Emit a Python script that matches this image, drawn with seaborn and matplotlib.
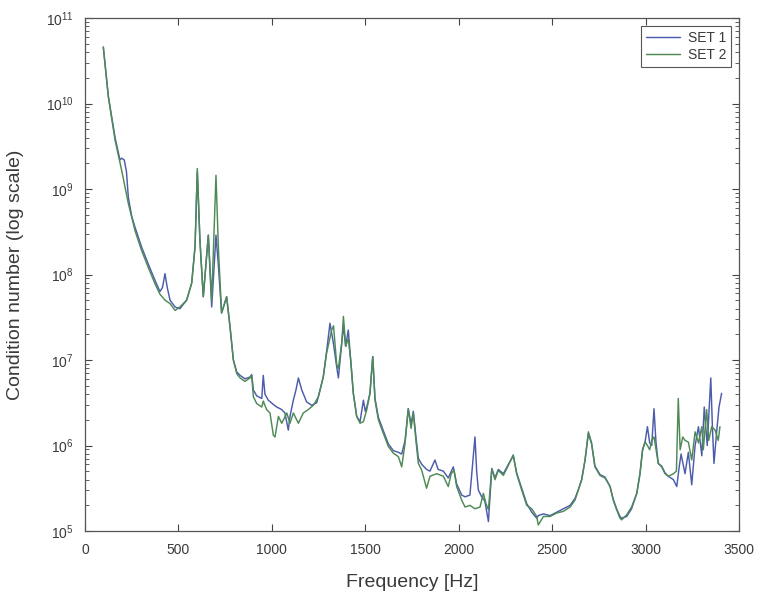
import numpy as np
import pandas as pd
import matplotlib
matplotlib.use("Agg")
import matplotlib.pyplot as plt
import seaborn as sns
from matplotlib.ticker import LogLocator, FixedLocator

# ---- data (frequency in Hz, condition number as log10) ----
set2_freq = [98, 125, 161, 196, 232, 268, 303, 339, 375, 401, 428, 455, 482, 508, 544, 571, 589, 601, 615, 633,
             660, 678, 701, 714, 731, 758, 776, 794, 812, 830, 856, 883, 892, 901, 919, 946, 954, 972, 990, 1008,
             1017, 1035, 1053, 1080, 1097, 1115, 1142, 1168, 1195, 1222, 1249, 1258, 1275, 1293, 1320, 1330, 1347,
             1356, 1374, 1383, 1395, 1409, 1422, 1436, 1454, 1472, 1490, 1508, 1525, 1540, 1552, 1570, 1597, 1623,
             1650, 1677, 1695, 1713, 1730, 1745, 1757, 1771, 1784, 1802, 1828, 1846, 1882, 1918, 1944, 1960, 1975,
             1989, 2016, 2034, 2060, 2087, 2114, 2132, 2146, 2159, 2177, 2194, 2212, 2239, 2266, 2292, 2310, 2337,
             2364, 2391, 2417, 2426, 2453, 2489, 2524, 2560, 2596, 2622, 2640, 2658, 2676, 2694, 2711, 2729, 2756,
             2783, 2810, 2827, 2845, 2863, 2872, 2899, 2925, 2953, 2970, 2984, 2997, 3010, 3022, 3033, 3045, 3056,
             3068, 3086, 3104, 3122, 3149, 3165, 3175, 3185, 3199, 3211, 3229, 3247, 3265, 3283, 3301, 3309, 3327,
             3338, 3354, 3372, 3389, 3398]
set2_log10 = [10.66, 10.08, 9.57, 9.22, 8.83, 8.51, 8.28, 8.08, 7.89, 7.77, 7.70, 7.66, 7.58, 7.62, 7.70, 7.90, 8.33, 9.24, 8.40, 7.74,
              8.46, 7.70, 9.16, 8.30, 7.55, 7.74, 7.39, 7.00, 6.84, 6.79, 6.75, 6.79, 6.82, 6.57, 6.49, 6.45, 6.52, 6.42, 6.38, 6.12,
              6.10, 6.34, 6.26, 6.38, 6.26, 6.38, 6.26, 6.38, 6.42, 6.47, 6.57, 6.65, 6.80, 7.08, 7.35, 7.40, 6.95,
              6.90, 7.20, 7.51, 7.16, 7.25, 7.00, 6.61, 6.34, 6.26, 6.28, 6.42, 6.61, 7.04, 6.53, 6.30, 6.14, 5.99,
              5.91, 5.87, 5.75, 6.03, 6.43, 6.20, 6.38, 6.06, 5.79, 5.71, 5.50, 5.64, 5.67, 5.64, 5.52, 5.67, 5.71,
              5.52, 5.36, 5.28, 5.30, 5.26, 5.28, 5.44, 5.32, 5.25, 5.73, 5.60, 5.71, 5.65, 5.77, 5.89, 5.67, 5.48,
              5.30, 5.26, 5.17, 5.07, 5.17, 5.17, 5.21, 5.23, 5.28, 5.36, 5.48, 5.60, 5.83, 6.16, 6.03, 5.75, 5.65,
              5.62, 5.52, 5.36, 5.25, 5.15, 5.13, 5.19, 5.28, 5.44, 5.67, 5.95, 6.04, 6.00, 5.95, 6.06, 6.10, 5.95,
              5.79, 5.75, 5.67, 5.64, 5.67, 5.70, 6.55, 5.95, 6.10, 6.06, 6.04, 5.83, 6.16, 6.03, 6.22, 5.95, 6.42,
              6.06, 6.22, 6.18, 6.06, 6.22]

set1_freq = [98, 125, 161, 187, 196, 210, 222, 232, 250, 268, 303, 339, 375, 401, 415, 428, 440, 455, 482, 508, 544, 571,
             589, 601, 615, 633, 660, 678, 701, 714, 731, 758, 776, 794, 812, 830, 856, 883, 892, 901, 919, 946, 954,
             963, 981, 1008, 1026, 1053, 1070, 1088, 1097, 1115, 1129, 1142, 1160, 1186, 1213, 1240, 1258, 1275, 1293,
             1311, 1329, 1347, 1356, 1374, 1383, 1395, 1409, 1422, 1436, 1454, 1472, 1490, 1500, 1508, 1525, 1540,
             1552, 1570, 1597, 1623, 1650, 1677, 1695, 1713, 1730, 1745, 1757, 1771, 1784, 1802, 1828, 1846, 1873,
             1890, 1918, 1944, 1971, 1989, 2016, 2034, 2060, 2075, 2087, 2096, 2105, 2123, 2140, 2159, 2177, 2194,
             2212, 2239, 2266, 2292, 2310, 2337, 2364, 2391, 2417, 2426, 2453, 2489, 2524, 2560, 2596, 2622, 2640,
             2658, 2676, 2694, 2711, 2729, 2756, 2783, 2810, 2827, 2845, 2863, 2872, 2899, 2925, 2953, 2970, 2984,
             2997, 3010, 3022, 3033, 3045, 3056, 3068, 3086, 3104, 3122, 3149, 3167, 3180, 3190, 3211, 3229, 3247,
             3265, 3283, 3301, 3314, 3330, 3349, 3358, 3366, 3380, 3393, 3407]
set1_log10 = [10.66, 10.08, 9.60, 9.34, 9.36, 9.34, 9.20, 8.90, 8.68, 8.55, 8.32, 8.12, 7.93, 7.80, 7.85, 8.01, 7.85, 7.70, 7.62, 7.60, 7.70, 7.90,
              8.33, 9.20, 8.40, 7.74, 8.46, 7.62, 8.46, 8.10, 7.55, 7.74, 7.39, 7.00, 6.86, 6.82, 6.78, 6.80, 6.83, 6.65, 6.58, 6.55, 6.82,
              6.60, 6.53, 6.48, 6.45, 6.42, 6.38, 6.18, 6.34, 6.53, 6.65, 6.79, 6.65, 6.51, 6.47, 6.50, 6.65, 6.80, 7.10,
              7.43, 7.20, 6.92, 6.79, 7.20, 7.40, 7.16, 7.35, 7.00, 6.61, 6.34, 6.28, 6.53, 6.40, 6.45, 6.61, 7.04,
              6.55, 6.33, 6.17, 6.02, 5.94, 5.92, 5.90, 6.06, 6.43, 6.25, 6.40, 6.10, 5.85, 5.78, 5.72, 5.70, 5.83,
              5.72, 5.70, 5.62, 5.75, 5.55, 5.42, 5.40, 5.42, 5.79, 6.10, 5.70, 5.48, 5.40, 5.35, 5.11, 5.73, 5.62,
              5.72, 5.67, 5.78, 5.88, 5.68, 5.50, 5.32, 5.22, 5.15, 5.18, 5.20, 5.18, 5.22, 5.26, 5.30, 5.38, 5.48,
              5.60, 5.83, 6.14, 6.02, 5.76, 5.66, 5.63, 5.52, 5.37, 5.26, 5.17, 5.15, 5.17, 5.26, 5.44, 5.67, 5.95,
              6.04, 6.22, 6.03, 6.00, 6.43, 6.03, 5.79, 5.76, 5.68, 5.64, 5.60, 5.52, 5.75, 5.90, 5.67, 5.92, 5.54,
              6.00, 6.22, 5.88, 6.45, 6.00, 6.79, 6.20, 5.79, 6.15, 6.45, 6.61]

series_names = ["SET 1", "SET 2"]
x_ticks = [0, 500, 1000, 1500, 2000, 2500, 3000, 3500]
y_exponents = [5, 6, 7, 8, 9, 10, 11]

df = pd.concat([
    pd.DataFrame({"Frequency": set1_freq, "Cond": np.power(10.0, set1_log10), "Set": series_names[0]}),
    pd.DataFrame({"Frequency": set2_freq, "Cond": np.power(10.0, set2_log10), "Set": series_names[1]}),
], ignore_index=True)

sns.set_theme(style="ticks")
plt.rcParams["font.family"] = ["Liberation Sans", "DejaVu Sans"]
plt.rcParams["mathtext.default"] = "regular"

text_color = "#3a3a3a"
fig = plt.figure(figsize=(7.61, 5.94), dpi=100)
ax = fig.add_axes([85 / 761, 63 / 594, 654 / 761, 513 / 594])

palette = {"SET 1": "#4c5cab", "SET 2": "#4e8a55"}
sns.lineplot(data=df, x="Frequency", y="Cond", hue="Set", palette=palette,
             linewidth=1.05, ax=ax, sort=False, estimator=None)

ax.set_yscale("log")
ax.set_xlim(0, 3500)
ax.set_ylim(1e5, 1e11)
ax.xaxis.set_major_locator(FixedLocator(x_ticks))
ax.set_xticklabels([str(t) for t in x_ticks])
ax.yaxis.set_major_locator(FixedLocator([10.0 ** e for e in y_exponents]))
ax.set_yticklabels([r"$10^{%d}$" % e for e in y_exponents])
ax.yaxis.set_minor_locator(LogLocator(base=10, subs=np.arange(2, 10), numticks=20))
ax.yaxis.set_minor_formatter(plt.NullFormatter())

ax.tick_params(axis="x", which="major", pad=9)
ax.tick_params(axis="y", which="major", pad=8)
ax.tick_params(axis="both", which="major", direction="in", length=5, width=0.8,
               top=True, right=True, labelsize=10, colors="#444444", labelcolor=text_color)
ax.tick_params(axis="y", which="minor", direction="in", length=3, width=0.6,
               right=True, colors="#444444")
for sp in ax.spines.values():
    sp.set_color("#555555")
    sp.set_linewidth(0.9)

ax.set_xlabel("Frequency [Hz]", fontsize=14, color=text_color, labelpad=12)
ax.set_ylabel("Condition number (log scale)", fontsize=14, color=text_color, labelpad=16)

leg = ax.legend(loc="upper right", fontsize=10, frameon=True, fancybox=False,
                edgecolor="#555555", framealpha=1, borderpad=0.35, handlelength=2.4,
                handletextpad=0.6, labelspacing=0.25, borderaxespad=0.55)
leg.get_frame().set_linewidth(0.8)
for t in leg.get_texts():
    t.set_color(text_color)

fig.savefig("out.png", dpi=100)
